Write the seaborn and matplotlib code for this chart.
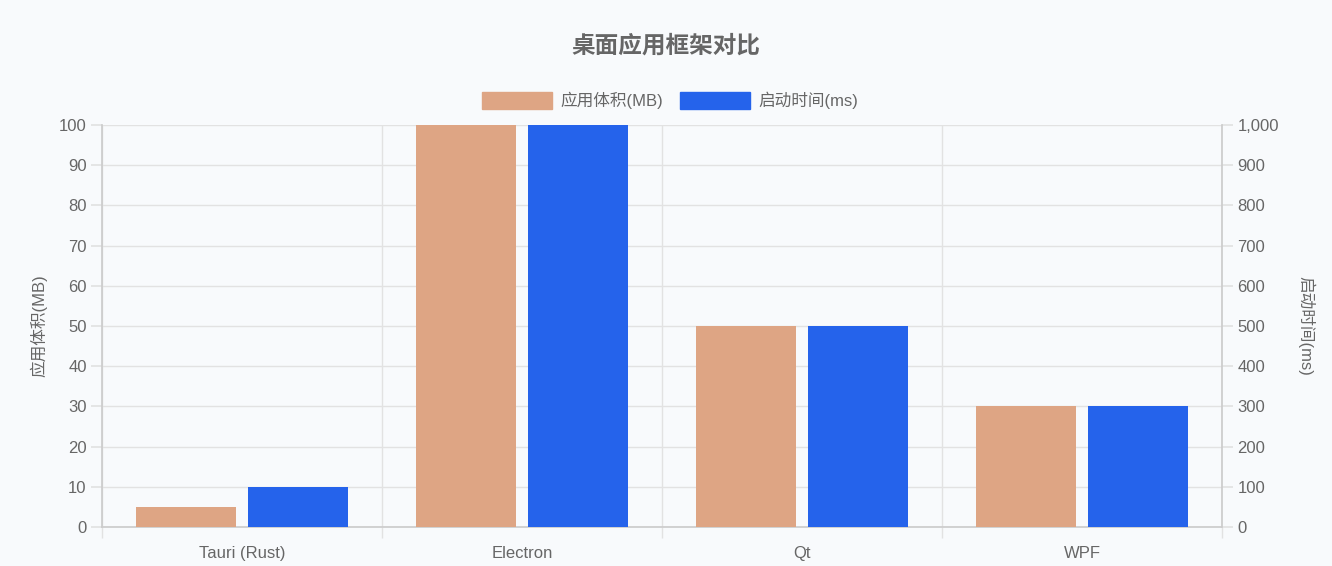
import numpy as np
import pandas as pd
import matplotlib
matplotlib.use("Agg")
import matplotlib.pyplot as plt
from matplotlib.patches import Patch
from matplotlib.ticker import FuncFormatter, FixedLocator
import seaborn as sns

# data
frameworks = ["Tauri (Rust)", "Electron", "Qt", "WPF"]
app_size_mb = [5, 100, 50, 30]
startup_ms = [100, 1000, 500, 300]
series_names = ["应用体积(MB)", "启动时间(ms)"]

orange = "#DEA584"
blue = "#2563EB"
bg = "#F8FAFC"
grid_c = "#E2E2E2"
text_c = "#666666"

sns.set_theme(style="white")
plt.rcParams["font.family"] = ["Liberation Sans", "Noto Sans CJK SC", "DejaVu Sans"]

# long table, one row per bar
df = pd.DataFrame({
    "framework": frameworks * 2,
    "series": [series_names[0]] * 4 + [series_names[1]] * 4,
    "value": app_size_mb + startup_ms,
})

fig = plt.figure(figsize=(13.32, 5.66), dpi=100, facecolor=bg)
ax1 = fig.add_axes([102 / 1332, 1 - 527 / 566, 1120 / 1332, 402 / 566])
ax1.set_facecolor(bg)
ax2 = ax1.twinx()

palette = {series_names[0]: orange, series_names[1]: blue}

# left axis: app size, right axis: startup time (same dodge slots)
sns.barplot(data=df[df.series == series_names[0]], x="framework", y="value",
            hue="series", hue_order=series_names, order=frameworks,
            palette=palette, dodge=True, width=0.8, gap=0.1, linewidth=0,
            saturation=1, legend=False, ax=ax1, zorder=3)
sns.barplot(data=df[df.series == series_names[1]], x="framework", y="value",
            hue="series", hue_order=series_names, order=frameworks,
            palette=palette, dodge=True, width=0.8, gap=0.1, linewidth=0,
            saturation=1, legend=False, ax=ax2, zorder=3)

ax1.set_xlim(-0.5, len(frameworks) - 0.5)
ax1.set_ylim(0, 100)
ax2.set_ylim(0, 1000)
ax1.set_yticks(np.arange(0, 101, 10))
ax2.set_yticks(np.arange(0, 1001, 100))
ax2.yaxis.set_major_formatter(FuncFormatter(lambda v, p: f"{int(v):,}"))

# grid
ax1.yaxis.grid(True, color=grid_c, linewidth=1, zorder=0)
ax1.xaxis.set_minor_locator(FixedLocator(np.arange(-0.5, len(frameworks), 1.0)))
ax1.xaxis.grid(True, which="minor", color=grid_c, linewidth=1, zorder=0)
ax1.set_axisbelow(True)

ax1.tick_params(axis="x", which="major", length=0, pad=14, labelsize=12, labelcolor=text_c)
ax1.tick_params(axis="x", which="minor", bottom=True, length=8, color=grid_c, width=1)
ax1.tick_params(axis="y", length=8, color=grid_c, labelsize=12, labelcolor=text_c, pad=3, left=True)
ax2.tick_params(axis="y", length=8, color=grid_c, labelsize=12, labelcolor=text_c, pad=3, right=True)

for ax in (ax1, ax2):
    for s in ax.spines.values():
        s.set_visible(False)
ax1.spines["left"].set_visible(True)
ax1.spines["left"].set_color("#CCCCCC")
ax1.spines["bottom"].set_visible(True)
ax1.spines["bottom"].set_color("#CCCCCC")
ax2.spines["right"].set_visible(True)
ax2.spines["right"].set_color("#CCCCCC")

ax1.set_xlabel("")
ax1.set_ylabel("应用体积(MB)", fontsize=12, color=text_c, labelpad=8)
ax2.set_ylabel("启动时间(ms)", fontsize=12, color=text_c, rotation=270, labelpad=26)

fig.text(0.5, 1 - 46 / 566, "桌面应用框架对比", ha="center", va="center",
         fontsize=17, fontweight="bold", color=text_c)

handles = [Patch(facecolor=orange, edgecolor=orange), Patch(facecolor=blue, edgecolor=blue)]
fig.legend(handles, series_names, loc="center", bbox_to_anchor=(0.503, 1 - 100 / 566),
           ncol=2, frameon=False, fontsize=12, labelcolor=text_c,
           handlelength=4.2, handleheight=1.2, handletextpad=0.5, columnspacing=1.0)

fig.savefig("out.png", dpi=100, facecolor=bg)
